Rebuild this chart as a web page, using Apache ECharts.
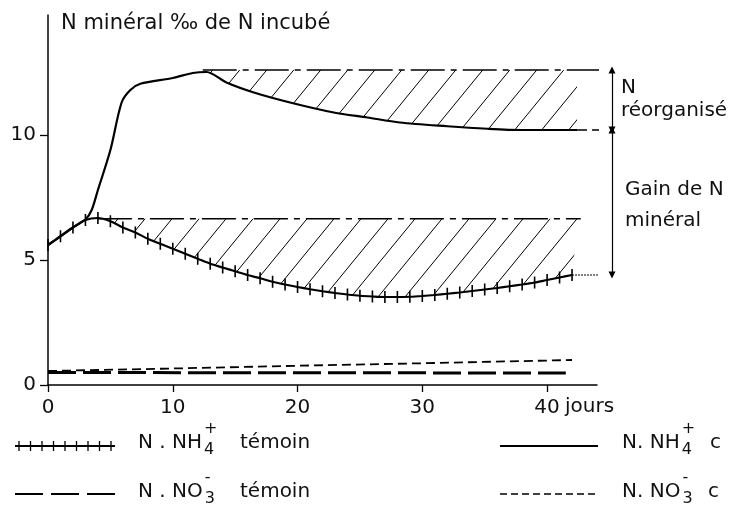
<!DOCTYPE html>
<html>
<head>
<meta charset="utf-8">
<script src="https://cdn.jsdelivr.net/npm/echarts@6/dist/echarts.min.js"></script>
<style>
html, body { margin: 0; padding: 0; background: #fff; }
#chart { width: 735px; height: 512px; }
</style>
</head>
<body>
<div id="chart"></div>
<script>
var FONT = 'DejaVu Sans';

// N.NH4+ témoin (ligne à croix), un point par jour
var temoinDays = [0, 1, 2, 3, 4, 5, 6, 7, 8, 9, 10, 11, 12, 13, 14, 15, 16, 17, 18, 19, 20,
    21, 22, 23, 24, 25, 26, 27, 28, 29, 30, 31, 32, 33, 34, 35, 36, 37, 38, 39, 40, 41, 42];
var temoinNH4 = [5.6, 5.95, 6.3, 6.6, 6.68, 6.55, 6.3, 6.1, 5.85, 5.65, 5.45, 5.25, 5.05, 4.85, 4.7,
    4.55, 4.4, 4.27, 4.13, 4.02, 3.92, 3.83, 3.75, 3.68, 3.62, 3.57, 3.54, 3.52, 3.52, 3.53, 3.56,
    3.6, 3.65, 3.7, 3.76, 3.82, 3.88, 3.95, 4.02, 4.1, 4.2, 4.3, 4.4];

// N.NH4+ c... (trait plein)
var cultDays = [0, 1, 2, 3, 3.5, 4, 5, 5.9, 6.6, 7.4, 10, 11.6, 12.7,
    14.3, 16.5, 19.4, 22.9, 25.6, 28.2, 32, 35.2, 38, 42.4];
var cultNH4 = [5.6, 5.95, 6.3, 6.62, 7.0, 7.8, 9.4, 11.3, 11.8, 12.05, 12.28, 12.48, 12.52,
    12.1, 11.7, 11.3, 10.9, 10.7, 10.5, 10.35, 10.25, 10.2, 10.2];

// N.NO3- témoin (tirets longs) et N.NO3- c... (tirets courts)
var no3TemoinDays = [0, 20, 41.5];
var no3Temoin = [0.5, 0.49, 0.48];
var no3CultDays = [0, 10, 20, 30, 42];
var no3Cult = [0.56, 0.66, 0.77, 0.87, 1.0];

// niveaux de référence (traits mixtes) et flèches
var upperRef = 12.6;
var lowerRef = 6.65;
var upperRefDays = [12.4, 45.2];
var lowerRefDays = [4.0, 42.7];
var arrowDay = 45.2;
var upperEnd = 10.2;
var lowerEnd = 4.4;

var xTicks = [0, 10, 20, 30, 40];
var yTicks = [0, 5, 10];

function pairs(xs, ys) {
    return xs.map(function (x, i) { return [x, ys[i]]; });
}

function hatchPattern() {
    var w = 27, h = 33;
    var c = document.createElement('canvas');
    c.width = w; c.height = h;
    var g = c.getContext('2d');
    g.strokeStyle = '#000';
    g.lineWidth = 1;
    [-w, 0, w].forEach(function (dx) {
        g.beginPath();
        g.moveTo(dx, h);
        g.lineTo(dx + w, 0);
        g.stroke();
    });
    return c;
}
var hatch = { image: hatchPattern(), repeat: 'repeat' };

// zones hachurées : entre la référence et la courbe
var upCurve = pairs(cultDays, cultNH4).filter(function (p) { return p[0] >= 12.4; });
var lowCurve = pairs(temoinDays, temoinNH4).filter(function (p) { return p[0] >= 4; });

function hatchSeries(curve, ref, xEnd) {
    return {
        type: 'custom', silent: true, z: 1,
        data: curve,
        renderItem: function (params, api) {
            if (params.dataIndex !== 0) return;
            var pts = [];
            pts.push(api.coord([curve[0][0], ref]));
            pts.push(api.coord([xEnd, ref]));
            for (var i = curve.length - 1; i >= 0; i--) {
                pts.push(api.coord(curve[i]));
            }
            return {
                type: 'polygon',
                shape: { points: pts },
                style: { fill: hatch, stroke: null }
            };
        }
    };
}

var myChart = echarts.init(document.getElementById('chart'));

var measureCtx = document.createElement('canvas').getContext('2d');
function textWidth(s, size) {
    measureCtx.font = size + 'px "' + FONT + '"';
    return measureCtx.measureText(s).width;
}

function txt(x, y, s, size) {
    return {
        type: 'text', left: x, top: y,
        style: { text: s, font: size + 'px "' + FONT + '"', fill: '#111' }
    };
}

function legendLabel(x, y, base, sub, sup, tail, tailX) {
    var bx = x + textWidth(base, 20) + 2;
    return [
        txt(x, y, base, 20),
        txt(bx, y + 9, sub, 16),
        txt(bx, y - 12, sup, 16),
        txt(tailX, y, tail, 20)
    ];
}

var graphics = [];
// légende ligne 1 gauche : trait à croix
graphics.push({ type: 'line', shape: { x1: 15, y1: 446, x2: 115, y2: 446 }, style: { stroke: '#000', lineWidth: 2 } });
for (var k = 0; k < 9; k++) {
    var xx = 19 + k * 11.5;
    graphics.push({ type: 'line', shape: { x1: xx, y1: 441, x2: xx, y2: 451 }, style: { stroke: '#000', lineWidth: 1.3 } });
}
graphics = graphics.concat(legendLabel(138, 433, 'N . NH', '4', '+', 'témoin', 240));
// légende ligne 1 droite : trait plein
graphics.push({ type: 'line', shape: { x1: 500, y1: 446, x2: 598, y2: 446 }, style: { stroke: '#000', lineWidth: 2.2 } });
graphics = graphics.concat(legendLabel(622, 433, 'N. NH', '4', '+', 'c', 710));
// légende ligne 2 gauche : tirets longs
graphics.push({ type: 'line', shape: { x1: 15, y1: 494, x2: 115, y2: 494 }, style: { stroke: '#000', lineWidth: 2, lineDash: [28, 8] } });
graphics = graphics.concat(legendLabel(138, 482, 'N . NO', '3', '-', 'témoin', 240));
// légende ligne 2 droite : tirets courts
graphics.push({ type: 'line', shape: { x1: 500, y1: 494, x2: 598, y2: 494 }, style: { stroke: '#000', lineWidth: 1.4, lineDash: [7, 4] } });
graphics = graphics.concat(legendLabel(622, 482, 'N. NO', '3', '-', 'c', 708));
// annotations des flèches
graphics.push(txt(621, 78, 'N', 20));
graphics.push(txt(621, 101, 'réorganisé', 20));
graphics.push(txt(625, 180, 'Gain de N', 20));
graphics.push(txt(625, 211, 'minéral', 20));
graphics.push(txt(565, 397, 'jours', 20));

var option = {
    animation: false,
    title: {
        text: 'N minéral ‰ de N incubé',
        left: 56, top: 8,
        textStyle: { fontFamily: FONT, fontSize: 21, fontWeight: 'normal', color: '#111' }
    },
    grid: { left: 48, top: 15, width: 549, height: 370 },
    xAxis: {
        type: 'value', min: 0, max: 44,
        splitLine: { show: false },
        axisLine: { lineStyle: { color: '#000', width: 1.5 } },
        axisTick: { customValues: xTicks, length: 7, lineStyle: { color: '#000', width: 1.3 } },
        axisLabel: { customValues: xTicks, margin: 13, color: '#111', fontFamily: FONT, fontSize: 20 }
    },
    yAxis: {
        type: 'value', min: 0, max: 14.8,
        splitLine: { show: false },
        axisLine: { show: true, lineStyle: { color: '#000', width: 1.5 } },
        axisTick: { show: true, customValues: yTicks, length: 8, lineStyle: { color: '#000', width: 1.3 } },
        axisLabel: { customValues: yTicks, margin: 12, color: '#111', fontFamily: FONT, fontSize: 20 }
    },
    graphic: graphics,
    series: [
        hatchSeries(upCurve, upperRef, 42.4),
        hatchSeries(lowCurve, lowerRef, 42.5),
        {
            name: 'ref haut', type: 'line', clip: false, symbol: 'none',
            data: upperRefDays.map(function (d) { return [d, upperRef]; }),
            lineStyle: { color: '#000', width: 1.3, type: [34, 6, 6, 6] }
        },
        {
            name: 'ref bas', type: 'line', clip: false, symbol: 'none',
            data: lowerRefDays.map(function (d) { return [d, lowerRef]; }),
            lineStyle: { color: '#000', width: 1.3, type: [34, 6, 6, 6] }
        },
        {
            name: 'fin haut', type: 'line', clip: false, symbol: 'none',
            data: [[cultDays[cultDays.length - 1], upperEnd], [arrowDay, upperEnd]],
            lineStyle: { color: '#000', width: 1.3, type: [10, 5] }
        },
        {
            name: 'fin bas', type: 'line', clip: false, symbol: 'none',
            data: [[temoinDays[temoinDays.length - 1], lowerEnd], [arrowDay, lowerEnd]],
            lineStyle: { color: '#000', width: 1, type: [2, 1] }
        },
        {
            name: 'N.NO3- c', type: 'line', symbol: 'none',
            data: pairs(no3CultDays, no3Cult),
            lineStyle: { color: '#000', width: 1.8, type: [9, 5] }
        },
        {
            name: 'N.NO3- témoin', type: 'line', symbol: 'none',
            data: pairs(no3TemoinDays, no3Temoin),
            lineStyle: { color: '#000', width: 3, type: [28, 7] }
        },
        {
            name: 'N.NH4+ c', type: 'line', symbol: 'none', smooth: 0.3,
            data: pairs(cultDays, cultNH4),
            lineStyle: { color: '#000', width: 2.2 }
        },
        {
            name: 'N.NH4+ témoin', type: 'line', smooth: 0.3,
            symbol: 'rect', symbolSize: [1.6, 12], showSymbol: true,
            itemStyle: { color: '#000' },
            data: pairs(temoinDays, temoinNH4),
            lineStyle: { color: '#000', width: 2.2 }
        },
        {
            name: 'fleches', type: 'lines', coordinateSystem: 'cartesian2d', clip: false,
            symbol: ['triangle', 'triangle'], symbolSize: 7,
            lineStyle: { color: '#000', width: 1.2, opacity: 1 },
            data: [
                { coords: [[arrowDay, upperRef], [arrowDay, upperEnd]] },
                { coords: [[arrowDay, upperEnd], [arrowDay, lowerEnd]] }
            ]
        }
    ]
};

myChart.setOption(option);
</script>
</body>
</html>
